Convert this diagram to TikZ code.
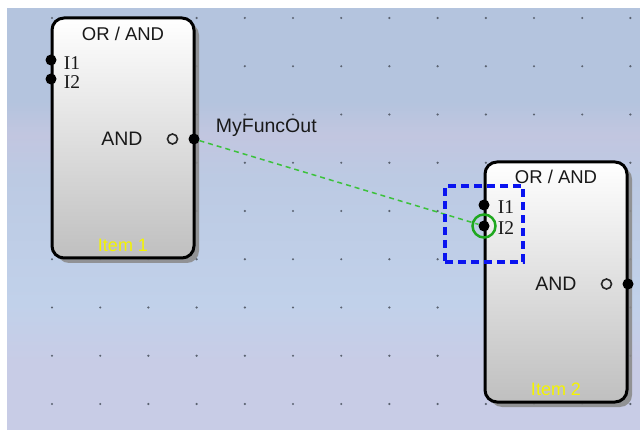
\documentclass[tikz,border=0pt]{standalone}
\usepackage{fontspec}
\setmainfont{Liberation Sans}
\newfontfamily\pinfont{Liberation Serif}
\usetikzlibrary{positioning, shadows}
\definecolor{canvastop}{HTML}{B4C4DE}
\definecolor{canvaslav}{HTML}{C2C6E0}
\definecolor{canvasmid}{HTML}{BCCAE3}
\definecolor{canvaslight}{HTML}{C1D1EA}
\definecolor{canvasbot}{HTML}{C8CCE6}
\definecolor{griddot}{HTML}{5A6270}
\definecolor{linkgreen}{HTML}{3CC23C}
\definecolor{hilitegreen}{HTML}{1FA81F}
\definecolor{selblue}{HTML}{0A14F0}
\definecolor{itemyellow}{HTML}{F4F400}
\pgfdeclareverticalshading{canvasshade}{100bp}{color(0bp)=(canvasbot); color(25bp)=(canvasbot);
  color(33bp)=(canvasbot); color(40bp)=(canvaslight); color(55bp)=(canvasmid);
  color(60bp)=(canvaslav); color(64bp)=(canvastop); color(75bp)=(canvastop); color(100bp)=(canvastop)}

\begin{document}
\begin{tikzpicture}[
    x=1pt, y=-1pt,
    block/.style={draw=black, line width=3pt, rounded corners=12pt, top color=white,
                  bottom color=gray!50, minimum width=142pt, minimum height=240pt, inner sep=0pt,
                  drop shadow={shadow xshift=5pt, shadow yshift=-5pt, fill=gray!90, opacity=0.9}},
    port/.style={circle, fill=black, inner sep=0pt, minimum size=11pt},
    negport/.style={circle, draw=black!85, line width=1.6pt, inner sep=0pt, minimum size=10pt},
    caption/.style={font=\fontsize{18.5}{21}\selectfont, text=black!90, inner sep=0pt},
    gate/.style={font=\fontsize{19.5}{22}\selectfont, text=black!90, inner sep=0pt},
    pinlabel/.style={font=\pinfont\fontsize{19.5}{22}\selectfont, text=black!90, inner sep=0pt},
    itemlabel/.style={font=\fontsize{18}{20}\selectfont, text=itemyellow, inner sep=0pt},
    link/.style={draw=linkgreen, line width=1.5pt, dash pattern=on 5pt off 4pt},
    hilite/.style={circle, draw=hilitegreen, line width=2.5pt, minimum size=23pt, inner sep=0pt},
    selbox/.style={draw=selblue, line width=3.5pt, dash pattern=on 8pt off 5pt,
                   minimum width=78pt, minimum height=76pt, inner sep=0pt}
]
    % canvas
    \useasboundingbox (0,0) rectangle (640,430);
    \fill[white] (0,0) rectangle (640,430);
    \shade[shading=canvasshade] (7,9) rectangle (640,430);
    \foreach \i in {0,...,12}
        \foreach \j in {0,...,8}
            \fill[griddot] ({52+48.2*\i},{18+48.25*\j}) circle (1.2);

    % blocks
    \node[block] (item1) at (123,138) {};
    \node[block] (item2) at (556,282) {};

    \node[caption, below=10pt of item1.north] (title1) {OR / AND};
    \node[caption, below=9pt of item2.north] (title2) {OR / AND};
    \node[itemlabel, above=8pt of item1.south] (name1) {Item 1};
    \node[itemlabel, above=8pt of item2.south] (name2) {Item 2};

    % ports of Item 1
    \node[port] (in1a) at (51,60) {};
    \node[port] (in1b) at (51,79) {};
    \node[port] (out1) at (194,139) {};
    \node[negport, left=10pt of out1] (neg1) {};
    \node[pinlabel, right=7pt of in1a, yshift=-3pt] (lbl1a) {I1};
    \node[pinlabel, right=7pt of in1b, yshift=-3pt] (lbl1b) {I2};
    \node[gate, left=24pt of neg1] (and1) {AND};
    \node[caption, font=\fontsize{19.5}{22}\selectfont, right=16pt of out1, yshift=11pt] (outname) {MyFuncOut};

    % ports of Item 2
    \node[port] (in2a) at (484,205) {};
    \node[port] (in2b) at (484,226) {};
    \node[port] (out2) at (628,284) {};
    \node[negport, left=10pt of out2] (neg2) {};
    \node[pinlabel, right=8pt of in2a, yshift=-2pt] (lbl2a) {I1};
    \node[pinlabel, right=8pt of in2b, yshift=-2pt] (lbl2b) {I2};
    \node[gate, left=24pt of neg2] (and2) {AND};

    % connection and selection
    \draw[link] (out1) -- (in2b);
    \node[hilite] (hl) at (in2b) {};
    \node[selbox, yshift=2pt] (sel) at (in2b) {};
\end{tikzpicture}
\end{document}
